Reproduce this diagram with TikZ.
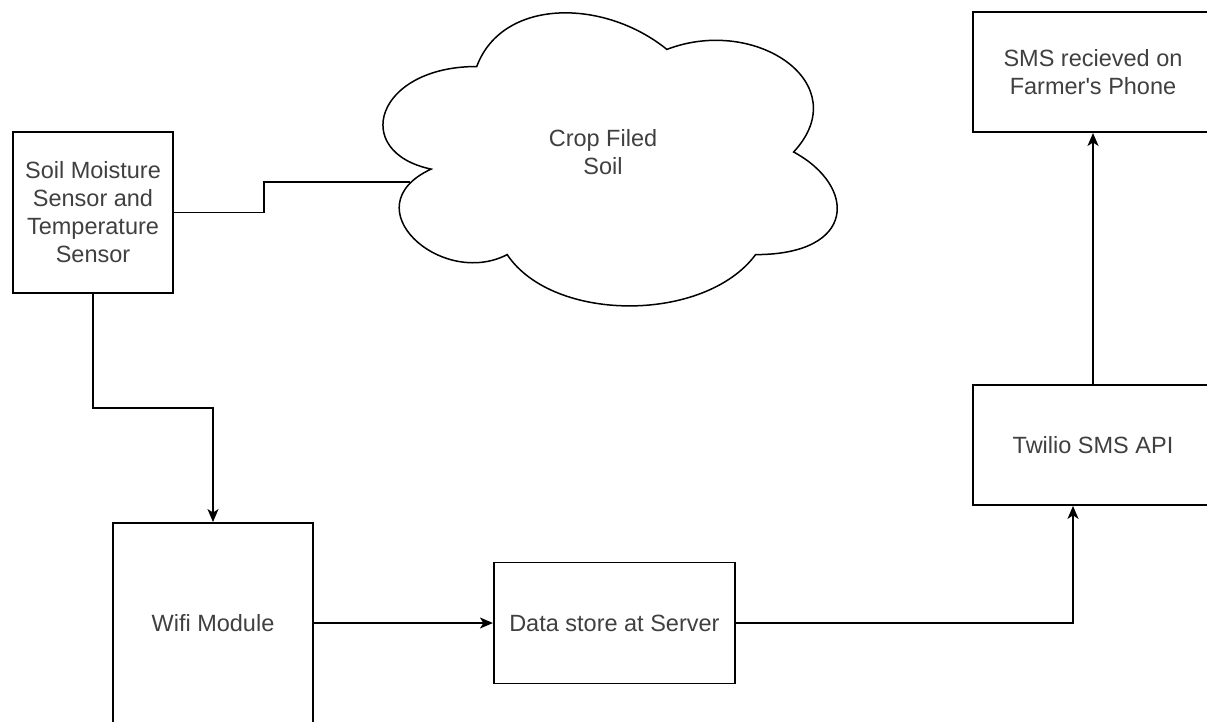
\documentclass[tikz,border=0pt]{standalone}
\usepackage{fontspec}
\setmainfont{Liberation Sans}
\usetikzlibrary{positioning, arrows.meta}

\begin{document}
\begin{tikzpicture}[x=1pt, y=-1pt,
    block/.style={draw, line width=1.9pt, fill=white, align=center, inner sep=0pt, text=black!75, font=\fontsize{23.5}{28}\selectfont},
    caption/.style={align=center, text=black!75, font=\fontsize{23.5}{28}\selectfont},
    wire/.style={line width=1.9pt},
    flow/.style={wire, -{Stealth[length=13pt, width=11pt, inset=3.5pt]}}]
    \useasboundingbox (0,0) rectangle (1207,721);

    \node[block, minimum width=160pt, minimum height=161pt] (sensor) at (93,212.5) {Soil Moisture\\Sensor and\\Temperature\\Sensor};
    \node[block, minimum width=240pt, minimum height=120pt] (sms) at (1093,72) {SMS recieved on\\Farmer{\textquotesingle}s Phone};
    \node[block, minimum width=240pt, minimum height=120pt] (twilio) [below=251pt of sms] {Twilio SMS API};
    \node[block, minimum width=200pt, minimum height=200pt] (wifi) at (213,623) {Wifi Module};
    \node[block, minimum width=241pt, minimum height=121pt] (data) [right=179pt of wifi] {Data store at Server};

    \begin{scope}[shift={(350,-19)}, x=507pt, y=-342pt]
        \draw[line width=1.5pt, fill=white] (0.25,0.25) .. controls (0.05,0.25) and (0,0.5) .. (0.16,0.55)
            .. controls (0,0.66) and (0.18,0.9) .. (0.31,0.8)
            .. controls (0.4,1) and (0.7,1) .. (0.8,0.8)
            .. controls (1,0.8) and (1,0.6) .. (0.875,0.5)
            .. controls (1,0.3) and (0.8,0.1) .. (0.625,0.2)
            .. controls (0.5,0.05) and (0.3,0.05) .. (0.25,0.25) -- cycle;
    \end{scope}
    \node[caption] (soil) at (603,152) {Crop Filed\\Soil};
    \coordinate (soilin) at (410,182);

    \draw[wire] (sensor.east) -- ++(90,0) |- (soilin);
    \draw[flow] (sensor.south) -- ++(0,114) -| (wifi.north);
    \draw[flow] (wifi.east) -- (data.west);
    \draw[flow] (data.east) -| ([xshift=-20pt]twilio.south);
    \draw[flow] (twilio.north) -- (sms.south);
\end{tikzpicture}
\end{document}
